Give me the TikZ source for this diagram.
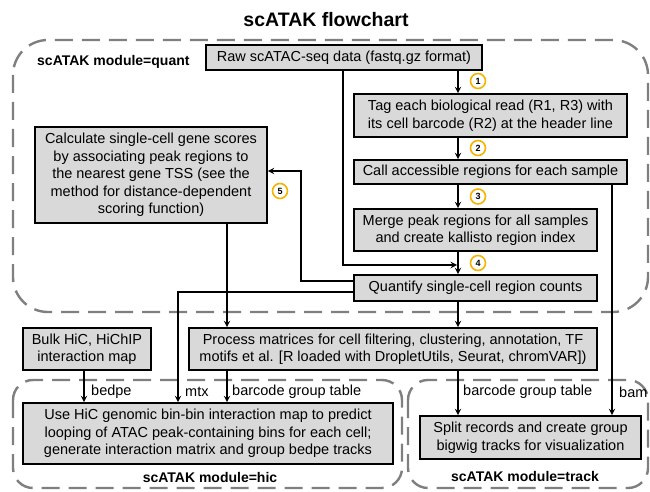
\documentclass[tikz,border=0pt]{standalone}
\usepackage{fontspec}
\setmainfont{Liberation Sans}
\usepackage{xcolor}
\usetikzlibrary{positioning}

\definecolor{boxgray}{HTML}{D9D9D9}
\definecolor{modgray}{HTML}{7F7F7F}
\definecolor{numorange}{HTML}{F5B400}

\tikzset{
  box/.style={draw=black, line width=1.6pt, fill=boxgray, align=center,
    inner sep=2pt, font=\fontsize{14.5}{17.5}\selectfont},
  module/.style={draw=modgray, line width=2.4pt, dash pattern=on 18pt off 9pt},
  arr/.style={->, >=stealth, line width=1.8pt},
  line/.style={line width=1.8pt},
  lbl/.style={anchor=west, inner sep=0pt, font=\fontsize{14.5}{17.5}\selectfont},
  modlbl/.style={inner sep=0pt, font=\fontsize{14}{16}\selectfont\bfseries},
  numcirc/.style={circle, draw=numorange, line width=1.6pt, fill=white,
    minimum size=15pt, inner sep=0pt, font=\fontsize{9}{9}\selectfont\bfseries}
}

\begin{document}
\begin{tikzpicture}[x=1pt, y=-1pt]

\useasboundingbox (0,0) rectangle (650,492);

% modules
{
\draw[module, rounded corners=35pt] (13,40) rectangle (648,312);
\draw[module, rounded corners=20pt] (13,380) rectangle (402,488);
\draw[module, rounded corners=20pt] (408,380) rectangle (648,488);
}

% titles
{
\node[modlbl, font=\fontsize{19.5}{22}\selectfont\bfseries] (title) at (326,20) {scATAK flowchart};
\node[modlbl, anchor=west] (quantlbl) at (37,62) {scATAK module=quant};
\node[modlbl] (hiclbl) at (210,477) {scATAK module=hic};
\node[modlbl] (tracklbl) at (525,476) {scATAK module=track};
}

% boxes
{
\node[box, minimum width=276pt, minimum height=25pt] (raw) at (344,57.5)
  {Raw scATAC-seq data (fastq.gz format)};
\node[box, minimum width=273pt, minimum height=43pt] (tag) at (490.5,115.5)
  {Tag each biological read (R1, R3) with\\its cell barcode (R2) at the header line};
\node[box, minimum width=273pt, minimum height=24pt] (call) at (490.5,172)
  {Call accessible regions for each sample};
\node[box, minimum width=243pt, minimum height=42pt] (merge) at (475.5,230)
  {Merge peak regions for all samples\\and create kallisto region index};
\node[box, minimum width=243pt, minimum height=26pt] (quant) at (475.5,288)
  {Quantify single-cell region counts};
\node[box, minimum width=232pt, minimum height=96pt] (calc) at (151,175)
  {Calculate single-cell gene scores\\by associating peak regions to\\the nearest gene TSS (see the\\method for distance-dependent\\scoring function)};
\node[box, minimum width=408pt, minimum height=42pt] (process) at (393,349)
  {Process matrices for cell filtering, clustering, annotation, TF\\motifs et al. [R loaded with DropletUtils, Seurat, chromVAR])};
\node[box, minimum width=128pt, minimum height=42pt] (bulk) at (87,349)
  {Bulk HiC, HiChIP\\interaction map};
\node[box, minimum width=370pt, minimum height=61pt] (hicbox) at (208,433.5)
  {Use HiC genomic bin-bin interaction map to predict\\looping of ATAC peak-containing bins for each cell;\\generate interaction matrix and group bedpe tracks};
\node[box, minimum width=221pt, minimum height=43pt] (split) at (530.5,437.5)
  {Split records and create group\\bigwig tracks for visualization};
}

\coordinate (spine) at (458,0);
\coordinate (join) at (457,265);

% arrows
{
\draw[arr] (spine |- raw.south) -- (spine |- tag.north);
\draw[arr] (spine |- tag.south) -- (spine |- call.north);
\draw[arr] (spine |- call.south) -- (spine |- merge.north);
\draw[arr] (spine |- merge.south) -- (spine |- quant.north);
\draw[arr] ([xshift=-1pt]raw.south) |- (join);
\draw[arr] ([yshift=7pt]quant.west) -| ([xshift=33pt,yshift=4pt]calc.east) -- ([yshift=4pt]calc.east);
\draw[arr] ([yshift=-4pt]quant.west) -| ([xshift=-30pt]hicbox.north);
\draw[arr] ([xshift=76pt]calc.south) -- ([xshift=76pt]calc.south |- process.north);
\draw[arr] (spine |- quant.south) -- (spine |- process.north);
\draw[arr] ([xshift=121.5pt]call.south) -- ([xshift=121.5pt]call.south |- split.north);
\draw[arr] ([xshift=-3pt]bulk.south) -- ([xshift=-3pt]bulk.south |- hicbox.north);
\draw[arr] ([xshift=-166pt]process.south) -- ([xshift=-166pt]process.south |- hicbox.north);
\draw[arr] (spine |- process.south) -- (spine |- split.north);
}

% numbers
{
\node[numcirc] (n1) at (478,81) {1};
\node[numcirc] (n2) at (478,148) {2};
\node[numcirc] (n3) at (478,196.5) {3};
\node[numcirc] (n4) at (478,263) {4};
\node[numcirc] (n5) at (280,191) {5};
}

% edge labels
{
\node[lbl] (bedpelbl) at (91,392) {bedpe};
\node[lbl] (mtxlbl) at (185,392) {mtx};
\node[lbl] (bgt1lbl) at (232,392) {barcode group table};
\node[lbl] (bgt2lbl) at (463,392) {barcode group table};
\node[lbl] (bamlbl) at (619,392) {bam};
}

\end{tikzpicture}
\end{document}
